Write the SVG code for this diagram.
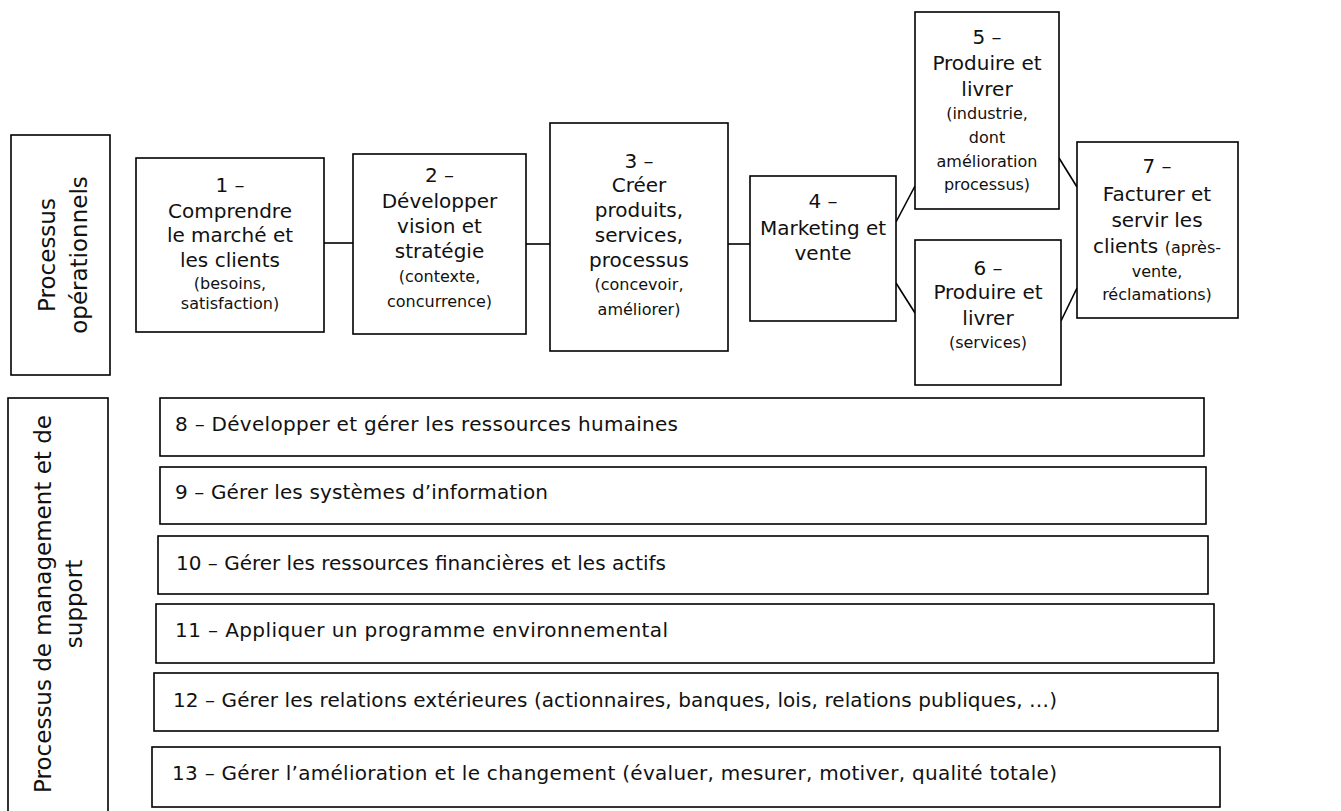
<svg xmlns="http://www.w3.org/2000/svg" width="1341" height="811" viewBox="0 0 1341 811">
  <style>
    .box { fill: #ffffff; stroke: #000000; stroke-width: 1.6; }
    .link { stroke: #000000; stroke-width: 1.6; fill: none; }
    text { font-family: "DejaVu Sans", "Noto Sans", sans-serif; fill: #111111; }
    .big { font-size: 20px; text-anchor: middle; }
    .small { font-size: 16px; text-anchor: middle; }
    .side { font-size: 23px; text-anchor: middle; }
    .row { font-size: 20px; }
    .sm { font-size: 16px; }
  </style>

  <rect width="1341" height="811" fill="#ffffff"/>

  <!-- connectors between the operational steps -->
  <g id="connectors">
    <line class="link" x1="324" y1="243" x2="353" y2="243"/>
    <line class="link" x1="526" y1="244" x2="550" y2="244"/>
    <line class="link" x1="728" y1="244" x2="750" y2="244"/>
    <line class="link" x1="896" y1="222" x2="915" y2="186"/>
    <line class="link" x1="896" y1="283" x2="915" y2="313"/>
    <line class="link" x1="1059" y1="158" x2="1077" y2="187"/>
    <line class="link" x1="1061" y1="321" x2="1077" y2="288"/>
  </g>

  <!-- side label: operational processes -->
  <g id="label-operationnels">
    <rect class="box" x="11" y="135" width="99" height="240"/>
    <text class="side" transform="translate(55,255) rotate(-90)" x="0" y="0">Processus</text>
    <text class="side" transform="translate(87,255) rotate(-90)" x="0" y="0">opérationnels</text>
  </g>

  <!-- side label: management and support processes -->
  <g id="label-support">
    <rect class="box" x="8" y="398" width="100" height="420"/>
    <text class="side" transform="translate(51,604) rotate(-90)" x="0" y="0">Processus de management et de</text>
    <text class="side" transform="translate(82,604) rotate(-90)" x="0" y="0">support</text>
  </g>

  <g id="step1">
    <rect class="box" x="136" y="158" width="188" height="174"/>
    <text class="big" x="230" y="192">1 –</text>
    <text class="big" x="230" y="218">Comprendre</text>
    <text class="big" x="230" y="242">le marché et</text>
    <text class="big" x="230" y="267">les clients</text>
    <text class="small" x="230" y="289">(besoins,</text>
    <text class="small" x="230" y="309">satisfaction)</text>
  </g>

  <g id="step2">
    <rect class="box" x="353" y="154" width="173" height="180"/>
    <text class="big" x="439.5" y="182">2 –</text>
    <text class="big" x="439.5" y="208">Développer</text>
    <text class="big" x="439.5" y="233">vision et</text>
    <text class="big" x="439.5" y="258">stratégie</text>
    <text class="small" x="439.5" y="282">(contexte,</text>
    <text class="small" x="439.5" y="307">concurrence)</text>
  </g>

  <g id="step3">
    <rect class="box" x="550" y="123" width="178" height="228"/>
    <text class="big" x="639" y="168">3 –</text>
    <text class="big" x="639" y="192">Créer</text>
    <text class="big" x="639" y="217">produits,</text>
    <text class="big" x="639" y="242">services,</text>
    <text class="big" x="639" y="267">processus</text>
    <text class="small" x="639" y="290">(concevoir,</text>
    <text class="small" x="639" y="315">améliorer)</text>
  </g>

  <g id="step4">
    <rect class="box" x="750" y="176" width="146" height="145"/>
    <text class="big" x="823" y="208">4 –</text>
    <text class="big" x="823" y="235">Marketing et</text>
    <text class="big" x="823" y="260">vente</text>
  </g>

  <g id="step5">
    <rect class="box" x="915" y="12" width="144" height="197"/>
    <text class="big" x="987" y="44">5 –</text>
    <text class="big" x="987" y="70">Produire et</text>
    <text class="big" x="987" y="96">livrer</text>
    <text class="small" x="987" y="119">(industrie,</text>
    <text class="small" x="987" y="143">dont</text>
    <text class="small" x="987" y="167">amélioration</text>
    <text class="small" x="987" y="190">processus)</text>
  </g>

  <g id="step6">
    <rect class="box" x="915" y="240" width="146" height="145"/>
    <text class="big" x="988" y="275">6 –</text>
    <text class="big" x="988" y="299">Produire et</text>
    <text class="big" x="988" y="325">livrer</text>
    <text class="small" x="988" y="348">(services)</text>
  </g>

  <g id="step7">
    <rect class="box" x="1077" y="142" width="161" height="176"/>
    <text class="big" x="1157" y="173">7 –</text>
    <text class="big" x="1157" y="201">Facturer et</text>
    <text class="big" x="1157" y="227">servir les</text>
    <text class="big" x="1157" y="253">clients <tspan class="sm">(après-</tspan></text>
    <text class="small" x="1157" y="277">vente,</text>
    <text class="small" x="1157" y="300">réclamations)</text>
  </g>

  <!-- management and support rows -->
  <g id="row8">
    <rect class="box" x="160" y="398" width="1044" height="58"/>
    <text class="row" x="175" y="431" textLength="503">8 – Développer et gérer les ressources humaines</text>
  </g>
  <g id="row9">
    <rect class="box" x="160" y="467" width="1046" height="57"/>
    <text class="row" x="175" y="499" textLength="373">9 – Gérer les systèmes d’information</text>
  </g>
  <g id="row10">
    <rect class="box" x="158" y="536" width="1050" height="58"/>
    <text class="row" x="176" y="570" textLength="490">10 – Gérer les ressources financières et les actifs</text>
  </g>
  <g id="row11">
    <rect class="box" x="156" y="604" width="1058" height="59"/>
    <text class="row" x="175" y="637" textLength="493">11 – Appliquer un programme environnemental</text>
  </g>
  <g id="row12">
    <rect class="box" x="154" y="673" width="1064" height="58"/>
    <text class="row" x="173" y="707" textLength="884">12 – Gérer les relations extérieures (actionnaires, banques, lois, relations publiques, …)</text>
  </g>
  <g id="row13">
    <rect class="box" x="152" y="747" width="1068" height="60"/>
    <text class="row" x="172" y="780" textLength="885">13 – Gérer l’amélioration et le changement (évaluer, mesurer, motiver, qualité totale)</text>
  </g>
</svg>
